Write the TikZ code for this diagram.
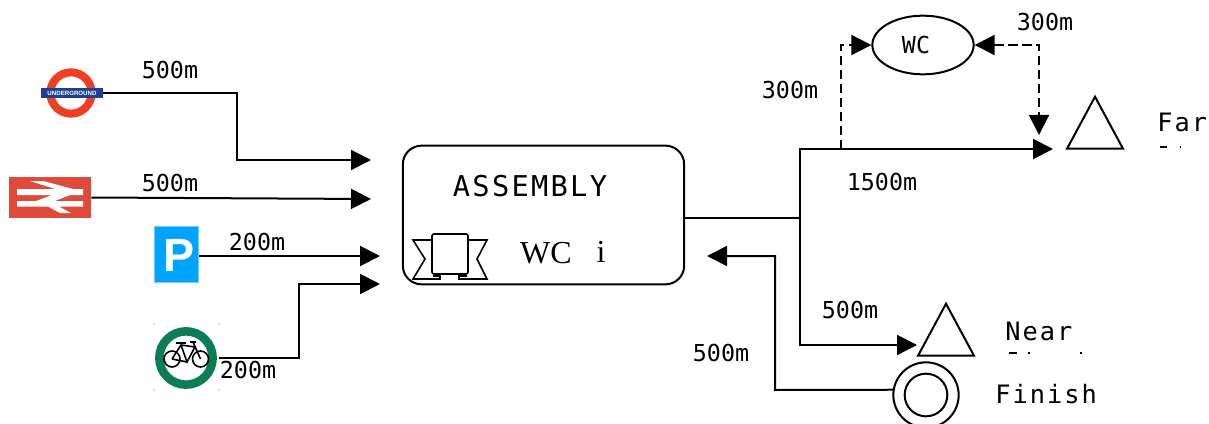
\documentclass[tikz,border=0pt]{standalone}
\usepackage{fontspec}
\setmainfont{Liberation Serif}
\setsansfont{Liberation Sans}
\newfontfamily\monofont{DejaVu Sans Mono}
\newfontfamily\spacedfont[LetterSpace=8]{DejaVu Sans Mono}
\usetikzlibrary{arrows.meta,calc,positioning,shapes.geometric}
\definecolor{tuberedc}{HTML}{EF3E23}
\definecolor{tubebluec}{HTML}{1C3F94}
\definecolor{railredc}{HTML}{E04A3A}
\definecolor{parkbluec}{HTML}{00A4FF}
\definecolor{bikegreenc}{HTML}{0A7D52}

\begin{document}
\begin{tikzpicture}[
  x=0.75pt,y=-0.75pt,
  every node/.style={inner sep=0pt},
  route/.style={line width=1.5pt,-{Triangle[length=15pt,width=15pt]}},
  plainroute/.style={line width=1.5pt},
  wcroute/.style={route,dash pattern=on 7pt off 3.5pt},
  distlabel/.style={font=\monofont\fontsize{17.5pt}{20pt}\selectfont},
  placelabel/.style={anchor=west,font=\spacedfont\fontsize{19pt}{23pt}\selectfont},
  flagmark/.style={isosceles triangle,isosceles triangle stretches,shape border rotate=90,
                   draw=black,line width=1.5pt,minimum width=42pt,minimum height=39pt},
  iconline/.style={draw=black,line width=1.2pt}
]
\useasboundingbox (0,0) rectangle (1209,424);

% transport signs
\node[circle,draw=tuberedc,line width=6pt,minimum size=31pt] (tube) at (71,93) {};
\node[fill=tubebluec,minimum width=46.5pt,minimum height=7.5pt,text=white,
      font=\fontsize{4.6pt}{5pt}\selectfont\sffamily\bfseries] (tubebar) at (72,93) {UNDERGROUND};

\node[fill=railredc,minimum width=61.5pt,minimum height=30.75pt] (rail) at (50,197.5) {};
\fill[white] (17,189) -- (83,189) -- (83,195) -- (17,195) -- cycle
  (17,201) -- (83,201) -- (83,206.5) -- (17,206.5) -- cycle
  (30,181) -- (43,181) -- (73,189) -- (55,189) -- cycle
  (52,195) -- (70,195) -- (55,201) -- (36,201) -- cycle
  (47,206) -- (58,206) -- (71,213) -- (60,213) -- cycle;

\node[fill=parkbluec,draw=parkbluec!55,line width=0.75pt,minimum width=33pt,minimum height=42pt,
      text=white,font=\fontsize{35pt}{35pt}\selectfont\sffamily\bfseries] (park) at (176.5,254.5) {\kern3.5pt\rule{0pt}{26pt}P};

\node[circle,draw=bikegreenc,line width=6.4pt,minimum size=40pt] (bike) at (186,358) {};
\coordinate (bikeout) at (219,358);
\draw[iconline] (172,359) circle (6pt) (200.5,359) circle (6pt);
\draw[iconline] (172,359) -- (181,345) -- (195,347) -- (187,362) -- (181,345)
  (187,362) -- (172,359) (193,342) -- (200.5,359)
  (176,343) -- (186,343) (190,342) -- (196,342);
\foreach \cx/\cy in {154/324,219/324,154/390,219/390}
  \fill[black!60] (\cx,\cy) circle (0.5pt);

% assembly box
\node[draw=black,line width=1.5pt,rounded corners=14pt,minimum width=211pt,minimum height=104pt] (assembly) at (543.5,215) {};
\node[font=\spacedfont\fontsize{21.5pt}{24pt}\selectfont] (assemblytext) at (530,186) {ASSEMBLY};
\node[font=\fontsize{24pt}{26pt}\selectfont] (wctext) at (546,253) {WC};
\node[font=\fontsize{24pt}{26pt}\selectfont] (infotext) at (601,252) {i};
\draw[iconline,rounded corners=1.5pt] (432,234) rectangle (468,274);
\draw[iconline] (432,240) -- (413,240) -- (425,259) -- (413,279) -- (440,279) -- (440,276) -- (433,276)
  (468,240) -- (487,240) -- (477,259) -- (487,279) -- (459,279) -- (459,276) -- (467,276);

% arrow ends
\coordinate (tubeend) at (371,160);
\coordinate (railend) at (371,199);
\coordinate (parkend) at (380,256);
\coordinate (bikeend) at (380,284);
\coordinate (junction) at (800,218);
\coordinate (farend) at (1053,149);
\coordinate (nearend) at (917,345);
\coordinate (backend) at (707,256);
\coordinate (wcfork) at (840.5,149);
\coordinate (wcdrop) at (1039,135);

% goals
\node[draw=black,ellipse,line width=1.5pt,minimum width=76pt,minimum height=44pt] (wc) at (923,45) {};
\node[flagmark] (farflag) at (1095,132) {};
\node[flagmark] (nearflag) at (946,339) {};
\node[circle,draw=black,line width=1.5pt,minimum size=49pt] (finish) at (926,395) {};
\node[circle,draw=black,line width=1.5pt,minimum size=32pt] (finishin) at (926,395) {};

% routes
\draw[route] (tubebar.east) -- (237,93) -- (237,160) -- (tubeend);
\draw[route] (rail.east) -- (railend);
\draw[route] (park.east |- parkend) -- (parkend);
\draw[route] (bikeout) -- (299,358) -- (299,284) -- (bikeend);
\draw[plainroute] (assembly.east |- junction) -- (junction);
\draw[route] (junction) -- (800,149) -- (farend);
\draw[route] (junction) -- (800,345) -- (nearend);
\draw[route] (finish.171) -- (775,390) -- (775,256) -- (backend);
\draw[wcroute] (wcfork) -- (840.5,45) -- (wc.west);
\draw[wcroute,{Triangle[length=15pt,width=15pt]}-{Triangle[length=15pt,width=15pt]}] (wc.east) -- (1039,45) -- (wcdrop);

% distances
\node[distlabel] (tubedist) at (170,70) {500m};
\node[distlabel] (raildist) at (170,183) {500m};
\node[distlabel] (parkdist) at (257,242) {200m};
\node[distlabel] (bikedist) at (248,370) {200m};
\node[distlabel] (leftdist) at (790,90) {300m};
\node[distlabel] (rightdist) at (1045,22) {300m};
\node[distlabel] (fardist) at (882,182) {1500m};
\node[distlabel] (neardist) at (850,310) {500m};
\node[distlabel] (backdist) at (721,353) {500m};
\node[distlabel] (wclabel) at (916,45) {WC};

% places
\node[placelabel] (farlabel) at (1157,122) {Far};
\node[placelabel] (nearlabel) at (1005,331) {Near};
\node[placelabel] (finishlabel) at (995,394) {Finish};
\draw[line width=1pt] (1160,147) -- (1167,147) (1179.5,147) -- (1181,147)
  (1009,353) -- (1017,353) (1028,353) -- (1030,353) (1080,353) -- (1082,353);
\end{tikzpicture}
\end{document}
